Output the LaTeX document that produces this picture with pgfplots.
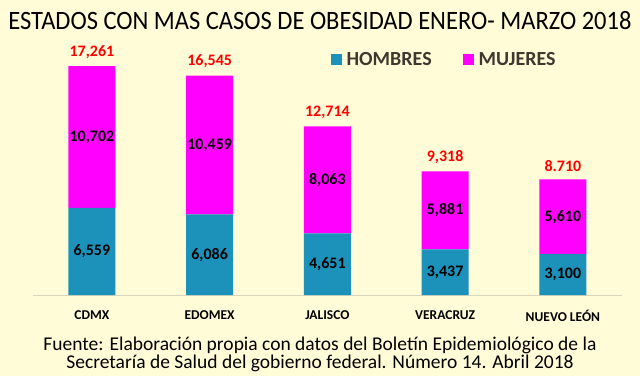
\documentclass[border=0pt]{standalone}
\usepackage{fontspec}
\setmainfont{Carlito}
\usepackage{pgfplots}
\pgfplotsset{compat=1.18}
\definecolor{bg}{RGB}{255,252,215}
\definecolor{hom}{RGB}{28,146,187}
\definecolor{muj}{RGB}{255,0,255}
\definecolor{legtxt}{RGB}{64,56,48}
\definecolor{baseln}{RGB}{215,213,190}
\begin{document}
\begin{tikzpicture}[x=1pt,y=1pt]
\useasboundingbox (0,0) rectangle (640,376);
\fill[bg] (0,0) rectangle (640,376);
\node[font=\fontsize{26.5}{30}\selectfont, text=black, xscale=0.925] at (320,355) {ESTADOS CON MAS CASOS DE OBESIDAD ENERO- MARZO 2018};
\node[font=\fontsize{19.5}{15.5}\selectfont, align=center, text=black] at (320,22) {Fuente: Elaboración propia con datos del Boletín Epidemiológico de la\\Secretaría de Salud del gobierno federal. Número 14. Abril 2018};
\begin{axis}[
  at={(33pt,81pt)}, anchor=south west,
  scale only axis, width=588.75pt, height=238.8pt,
  ybar stacked, bar width=47pt,
  xmin=-0.5, xmax=4.5, ymin=0, ymax=18000,
  axis y line=none, axis x line*=bottom,
  x axis line style={draw=baseln, line width=1pt, -},
  xtick=data, xtick style={draw=none},
  xticklabels={CDMX,EDOMEX,JALISCO,VERACRUZ,NUEVO LEÓN},
  xticklabel style={font=\bfseries\fontsize{13.5}{15}\selectfont, text=black, yshift=-12pt},
  legend columns=2,
  legend style={at={(0.500,0.985)}, anchor=west, draw=none, fill=none,
    font=\bfseries\fontsize{20}{24}\selectfont, text=legtxt,
    /tikz/every even column/.append style={column sep=29pt}},
  legend image code/.code={\path (0pt,0pt) -- (14pt,0pt); \path[#1, draw=none] (0pt,-5pt) rectangle (11pt,6pt);},
]
\addplot[fill=hom, draw=none] coordinates {(0,6559) (1,6086) (2,4651) (3,3437) (4,3100)};
\addplot[fill=muj, draw=none] coordinates {(0,10702) (1,10459) (2,8063) (3,5881) (4,5610)};
\legend{HOMBRES, MUJERES}
\end{axis}
\begin{axis}[
  at={(33pt,81pt)}, anchor=south west,
  scale only axis, width=588.75pt, height=238.8pt,
  xmin=-0.5, xmax=4.5, ymin=0, ymax=18000,
  hide axis,
  nodes near coords, point meta=explicit symbolic,
]
\addplot[draw=none, mark=none, nodes near coords style={anchor=center, font=\bfseries\fontsize{16}{18}\selectfont, text=black}]
  table[meta=lab] {
  x y lab
  0 3279.5 6,559
  1 3043 6,086
  2 2325.5 4,651
  3 1718.5 3,437
  4 1550 3,100
};
\addplot[draw=none, mark=none, nodes near coords style={anchor=center, font=\bfseries\fontsize{16}{18}\selectfont, text=black}]
  table[meta=lab] {
  x y lab
  0 11910 10,702
  1 11315.5 10,459
  2 8682.5 8,063
  3 6377.5 5,881
  4 5905 5,610
};
\addplot[draw=none, mark=none, nodes near coords style={anchor=south, yshift=4pt, font=\bfseries\fontsize{16}{18}\selectfont, text=red}]
  table[meta=lab] {
  x y lab
  0 17261 17,261
  1 16545 16,545
  2 12714 12,714
  3 9318 9,318
  4 8710 8.710
};
\end{axis}
\end{tikzpicture}
\end{document}
